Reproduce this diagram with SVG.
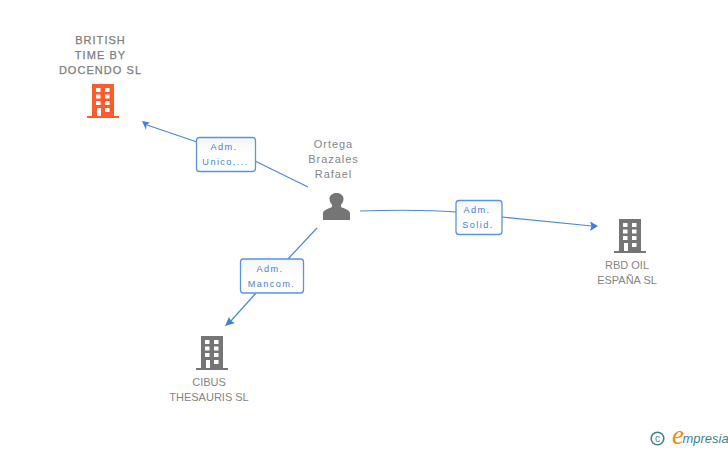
<svg xmlns="http://www.w3.org/2000/svg" width="728" height="450" viewBox="0 0 728 450">
<defs>
<style>
text{font-family:"Liberation Sans",Arial,sans-serif;text-anchor:middle}
.n{font-size:11px;fill:#858585}
.nw{letter-spacing:.95px}
.nb{font-size:11px;fill:#7d7d7d;letter-spacing:1.05px;stroke:#7d7d7d;stroke-width:.25px}
.l{font-size:9.200px;fill:#3f7fdc;letter-spacing:1.4px}
.c{fill:none;stroke:#4a86e0;stroke-width:1.2}
.b{fill:url(#g);stroke:#5b93e3;stroke-width:1.3}
.a{fill:#3f7fdc}
</style>
<linearGradient id="g" x1="0" y1="0" x2="0" y2="1"><stop offset="0" stop-color="#f5f5f5"/><stop offset=".5" stop-color="#fff"/></linearGradient>
<g id="bld">
<path d="M5 0H27V32H32V34H0V32H5Z"/>
<path fill="#fff" d="M9 4h4.500v4h-4.500zM18 4h4.500v4h-4.500zM9 10.500h4.500v4h-4.500zM18 10.500h4.500v4h-4.500zM9 17h4.500v4h-4.500zM18 17h4.500v4h-4.500zM18 24h4.500v4h-4.500zM10 24h4v8h-4z"/>
</g>
</defs>
<g id="connectors">
<path class="c" d="M197 142L147 125"/>
<path class="c" d="M255 161L308 187"/>
<path class="c" d="M360 211C390 210 430 210 456 212"/>
<path class="c" d="M502 217L592 226"/>
<path class="c" d="M317 228L288 259"/>
<path class="c" d="M256 293L230 322"/>
<path class="a" d="M142 121L150 122.500L146.500 125L146 130Z"/>
<path class="a" d="M598 226L590 221.500L591.500 226L590 231Z"/>
<path class="a" d="M225 326L229 317L231 321L235 323Z"/>
</g>
<g id="british">
<text class="nb" x="100.500" y="44">BRITISH</text>
<text class="nb" x="100.500" y="59">TIME BY</text>
<text class="nb" x="100.500" y="74">DOCENDO SL</text>
<use href="#bld" x="87" y="84" fill="#ff5a2b"/>
</g>
<g id="ortega">
<text class="n nw" x="333.500" y="148">Ortega</text>
<text class="n nw" x="333.500" y="163">Brazales</text>
<text class="n nw" x="333.500" y="178">Rafael</text>
<path fill="#757575" d="M323 220V213.500C323 210 328 209 332 207V204.500C330 203 329.500 200 329.500 198C330 195 333 193 336.500 193S343 195 343.500 198C343.500 200 343 203 341 204.500V207C345 209 350 210 350 213.500V220Z"/>
</g>
<g id="rbd">
<use href="#bld" x="614" y="219" fill="#757575"/>
<text class="n" x="627" y="269">RBD OIL</text>
<text class="n" x="627" y="284">ESPAÑA SL</text>
</g>
<g id="cibus">
<use href="#bld" x="196" y="336" fill="#757575"/>
<text class="n" x="209" y="386">CIBUS</text>
<text class="n" x="209" y="401">THESAURIS SL</text>
</g>
<g id="label-unico">
<rect class="b" x="196.500" y="137.500" width="59" height="34" rx="3"/>
<text class="l" x="224" y="150">Adm.</text>
<text class="l" x="225.500" y="165">Unico,...</text>
</g>
<g id="label-solid">
<rect class="b" x="456" y="200.500" width="46" height="34" rx="3"/>
<text class="l" x="477" y="213">Adm.</text>
<text class="l" x="478" y="228">Solid.</text>
</g>
<g id="label-mancom">
<rect class="b" x="240.500" y="259" width="63" height="34" rx="3"/>
<text class="l" x="270" y="272">Adm.</text>
<text class="l" x="271.500" y="287">Mancom.</text>
</g>
<g id="logo">
<circle cx="657.500" cy="438.500" r="6.300" fill="none" stroke="#3f7f95" stroke-width="1.600"/>
<text x="657.500" y="442" style="font-size:10px;fill:#3f7f95">c</text>
<text x="678" y="444" style="font-size:27px;fill:#f08a1c;font-style:italic;font-family:'Liberation Serif',serif">e</text>
<text x="705.500" y="443" style="font-size:13px;fill:#3f7f95;font-style:italic">mpresia</text>
</g>
</svg>
